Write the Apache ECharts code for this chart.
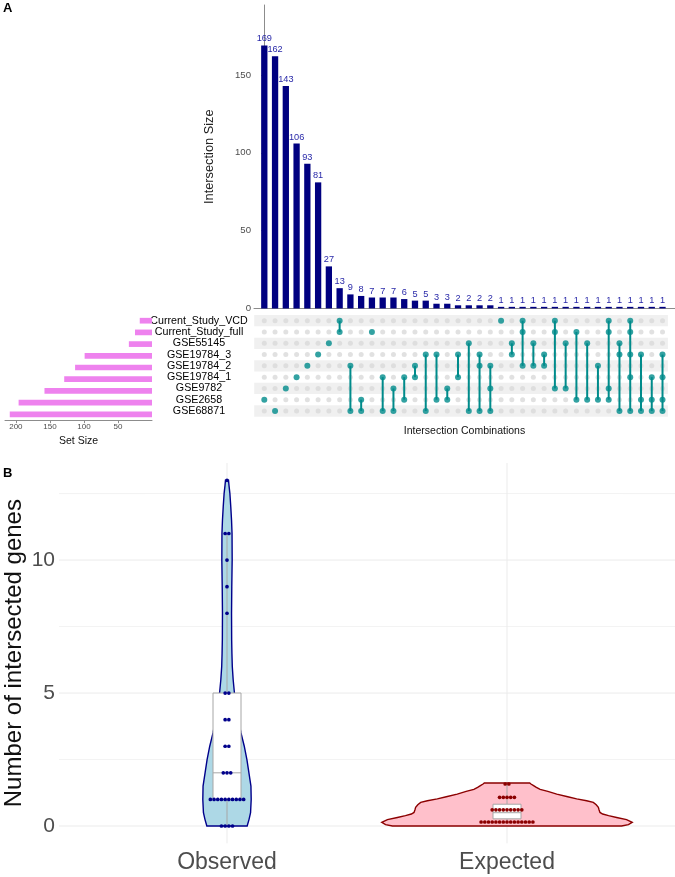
<!DOCTYPE html>
<html><head><meta charset="utf-8">
<script src="https://cdn.jsdelivr.net/npm/echarts@6/dist/echarts.min.js"></script>
<style>html,body{margin:0;padding:0;background:#fff}#c{width:675px;height:877px}</style>
</head><body><div id="c"></div>
<script>
// ---------------- DATA ----------------
const setNames = ['Current_Study_VCD','Current_Study_full','GSE55145','GSE19784_3','GSE19784_2','GSE19784_1','GSE9782','GSE2658','GSE68871'];
const setSizes = [18,25,34,99,113,129,158,196,209];
const intersectionSizes = [169,162,143,106,93,81,27,13,9,8,7,7,7,6,5,5,3,3,2,2,2,2,1,1,1,1,1,1,1,1,1,1,1,1,1,1,1,1];
const intersectionSets = [
 ['GSE2658'],['GSE68871'],['GSE9782'],['GSE19784_1'],['GSE19784_2'],['GSE19784_3'],['GSE55145'],
 ['Current_Study_VCD','Current_Study_full'],
 ['GSE19784_2','GSE68871'],['GSE2658','GSE68871'],['Current_Study_full'],['GSE19784_1','GSE68871'],['GSE9782','GSE68871'],
 ['GSE19784_1','GSE2658'],['GSE19784_2','GSE19784_1'],['GSE19784_3','GSE68871'],['GSE19784_3','GSE2658'],['GSE9782','GSE2658'],
 ['GSE19784_3','GSE19784_1'],['GSE55145','GSE68871'],['GSE19784_3','GSE19784_2','GSE68871'],['GSE19784_2','GSE9782','GSE68871'],
 ['Current_Study_VCD'],['GSE55145','GSE19784_3'],['Current_Study_VCD','Current_Study_full','GSE19784_2'],['GSE55145','GSE19784_2'],
 ['GSE19784_3','GSE19784_2'],['Current_Study_VCD','Current_Study_full','GSE9782'],['GSE55145','GSE9782'],['Current_Study_full','GSE2658'],
 ['GSE55145','GSE2658'],['GSE19784_2','GSE2658'],['Current_Study_VCD','Current_Study_full','GSE9782','GSE2658'],['GSE55145','GSE19784_3','GSE68871'],
 ['Current_Study_VCD','Current_Study_full','GSE19784_3','GSE19784_1','GSE68871'],['GSE19784_3','GSE2658','GSE68871'],['GSE19784_1','GSE2658','GSE68871'],
 ['GSE19784_3','GSE19784_1','GSE2658','GSE68871']
];
const intersectionTicks = [0,50,100,150];
const setSizeTicks = [50,100,150,200];

const violinCategories = ['Observed','Expected'];
const violinTicks = [0,5,10];
const violinMinorTicks = [2.5,7.5,12.5];
const observedValues = [13,11,11,10,9,8,5,5,4,4,3,3,2,2,2,1,1,1,1,1,1,1,1,1,1,0,0,0,0];
const expectedValues = [1.58,1.58,1.08,1.08,1.08,1.08,1.08,0.61,0.61,0.61,0.61,0.61,0.61,0.61,0.61,0.61,
  0.15,0.15,0.15,0.15,0.15,0.15,0.15,0.15,0.15,0.15,0.15,0.15,0.15,0.15,0.15];
const observedDensityY = [0,0.25,0.5,1,1.5,2,2.5,3,3.5,4,4.5,5,5.5,6,6.5,7,8,9,10,11,11.5,12,12.5,12.8,13];
const observedDensity  = [0.160,0.175,0.187,0.192,0.190,0.174,0.158,0.137,0.111,0.091,0.074,0.059,0.049,0.042,0.039,0.037,0.036,0.038,0.041,0.040,0.036,0.030,0.023,0.016,0.012];
const expectedDensityY = [0,0.05,0.14,0.24,0.32,0.39,0.45,0.51,0.6,0.7,0.8,0.89,0.95,1.02,1.1,1.2,1.3,1.38,1.45,1.52,1.58,1.62];
const expectedDensity  = [0.909,0.964,0.994,0.949,0.870,0.806,0.759,0.738,0.731,0.725,0.708,0.685,0.632,0.553,0.482,0.395,0.324,0.263,0.233,0.211,0.190,0.180];
const observedBox = [0,1,2,5,11];     // min, Q1, median, Q3, max (whiskers)
const expectedBox = [0.1,0.27,0.5,0.82,1.6];

// ---------------- LAYOUT / STYLE ----------------
const FONT = 'Liberation Sans, Arial, Helvetica, sans-serif';
const NAVY = '#000080', TEAL = '#008b8b';
const X_MIN_U = -0.957, X_MAX_U = 38.16;
const V_XMIN = 0.4, V_XMAX = 2.6;
const VIOLIN_HALF = 0.45, BOX_HALF = 0.05, DOT_D = 3.7;

// build matrix data
const memberDots = [], emptyDots = [], connectors = [];
intersectionSets.forEach((sets, i) => {
  const rows = sets.map(s => setNames.indexOf(s));
  setNames.forEach((n, j) => { (rows.includes(j) ? memberDots : emptyDots).push([i, j]); });
  if (rows.length > 1) connectors.push([i, Math.min(...rows), Math.max(...rows)]);
});
const stripeRows = setNames.map((n, j) => j).filter(j => j % 2 === 0);

function stackDots(vals, cat) {
  const counts = {}, seen = {};
  vals.forEach(v => counts[v] = (counts[v] || 0) + 1);
  return vals.map(v => { const k = seen[v] = (seen[v] || 0) + 1; return [cat, v, (k - 1) - (counts[v] - 1) / 2]; });
}

const violinSeries = (cat, ys, ds, fill, stroke) => ({
  type: 'custom', xAxisIndex: 3, yAxisIndex: 3, z: 3, silent: true,
  data: [[cat, 0]], encode: {x: 0, y: 1},
  renderItem: (p, api) => {
    const c = api.value(0), pts = [];
    for (let i = 0; i < ys.length; i++) pts.push(api.coord([c + ds[i] * VIOLIN_HALF, ys[i]]));
    for (let i = ys.length - 1; i >= 0; i--) pts.push(api.coord([c - ds[i] * VIOLIN_HALF, ys[i]]));
    return {type: 'polygon', shape: {points: pts}, style: {fill: fill, stroke: stroke, lineWidth: 1.4}};
  }
});

const chart = echarts.init(document.getElementById('c'), null, {renderer: 'canvas'});
const option = {
  animation: false,
  textStyle: {fontFamily: FONT},
  graphic: [
    {type: 'text', left: 3, top: 2, style: {text: 'A', font: 'bold 13px ' + FONT, fill: '#000'}},
    {type: 'text', left: 3, top: 467, style: {text: 'B', font: 'bold 13px ' + FONT, fill: '#000'}}
  ],
  grid: [
    {left: 254, right: 0, top: 5, height: 303.4, outerBoundsMode: 'none'},
    {left: 254, right: 0, top: 315.05, height: 101.6, outerBoundsMode: 'none'},
    {left: 5, width: 147, top: 314.85, height: 105.3, outerBoundsMode: 'none'},
    {left: 59, right: 0, top: 463, height: 380.3, outerBoundsMode: 'none'}
  ],
  xAxis: [
    {type: 'value', gridIndex: 0, min: X_MIN_U, max: X_MAX_U, axisLine: {show: true, onZero: false, lineStyle: {color: '#8c8c8c'}},
     axisTick: {show: false}, axisLabel: {show: false}, splitLine: {show: false}},
    {type: 'value', gridIndex: 1, min: X_MIN_U, max: X_MAX_U, axisLine: {show: false}, axisTick: {show: false},
     axisLabel: {show: false}, splitLine: {show: false},
     name: 'Intersection Combinations', nameLocation: 'middle', nameGap: 9, nameTextStyle: {fontSize: 10.5, color: '#111'}},
    {type: 'value', gridIndex: 2, inverse: true, min: 0, max: 216, interval: 50,
     axisLine: {show: true, onZero: false, lineStyle: {color: '#8c8c8c'}}, axisTick: {show: true, length: 3, lineStyle: {color: '#8c8c8c'}, customValues: setSizeTicks},
     axisLabel: {fontSize: 8, color: '#4d4d4d', margin: 3, customValues: setSizeTicks}, splitLine: {show: false},
     name: 'Set Size', nameLocation: 'middle', nameGap: 15, nameTextStyle: {fontSize: 10.5, color: '#111'}},
    {type: 'value', gridIndex: 3, min: V_XMIN, max: V_XMAX, axisLine: {show: false}, axisTick: {show: false}, splitLine: {show: false},
     axisLabel: {fontSize: 23, color: '#4d4d4d', margin: 8, customValues: [1, 2], formatter: v => violinCategories[Math.round(v) - 1] || ''}}
  ],
  yAxis: [
    {type: 'value', gridIndex: 0, min: 0, max: 195, interval: 50,
     axisLine: {show: true, lineStyle: {color: '#8c8c8c'}}, axisTick: {show: true, length: 3, lineStyle: {color: '#8c8c8c'}, customValues: intersectionTicks},
     axisLabel: {fontSize: 9.6, color: '#4d4d4d', margin: 3, customValues: intersectionTicks}, splitLine: {show: false},
     name: 'Intersection Size', nameLocation: 'middle', nameGap: 38, nameTextStyle: {fontSize: 12.8, color: '#222'}},
    {type: 'category', gridIndex: 1, data: setNames, inverse: true, axisLine: {show: false}, axisTick: {show: false},
     axisLabel: {interval: 0, align: 'center', margin: 55, fontSize: 10.7, color: '#000'}, splitLine: {show: false}},
    {type: 'category', gridIndex: 2, data: setNames, inverse: true, show: false},
    {type: 'value', gridIndex: 3, min: -0.65, max: 13.65, axisLine: {show: false}, axisTick: {show: false}, splitLine: {show: false},
     axisLabel: {fontSize: 21, color: '#4d4d4d', margin: 4, customValues: violinTicks},
     name: 'Number of intersected genes', nameLocation: 'middle', nameGap: 33, nameMoveOverlap: false,
     nameTextStyle: {fontSize: 24, color: '#111'}}
  ],
  series: [
    // intersection bars
    {type: 'bar', xAxisIndex: 0, yAxisIndex: 0, barWidth: 6.3, itemStyle: {color: NAVY},
     data: intersectionSizes.map((v, i) => [i, v]),
     label: {show: true, position: 'top', distance: 2, fontSize: 9.2, color: '#2828a8', formatter: p => p.value[1]}},
    // matrix stripes
    {type: 'custom', xAxisIndex: 1, yAxisIndex: 1, silent: true, z: 1,
     data: stripeRows.map(r => [0, r]), encode: {x: 0, y: 1},
     renderItem: (p, api) => {
       const a = api.coord([X_MIN_U + 0.02, api.value(1)]), b = api.coord([37.5, api.value(1)]);
       const h = api.size([0, 1])[1];
       return {type: 'rect', shape: {x: a[0], y: a[1] - h / 2, width: b[0] - a[0], height: h}, style: {fill: '#f0f0f0'}};
     }},
    {type: 'scatter', xAxisIndex: 1, yAxisIndex: 1, symbolSize: 5, itemStyle: {color: '#d9d9d9'}, data: emptyDots, z: 2, silent: true},
    {type: 'custom', xAxisIndex: 1, yAxisIndex: 1, silent: true, z: 3,
     data: connectors, encode: {x: 0, y: 1},
     renderItem: (p, api) => {
       const a = api.coord([api.value(0), api.value(1)]), b = api.coord([api.value(0), api.value(2)]);
       return {type: 'line', shape: {x1: a[0], y1: a[1], x2: b[0], y2: b[1]}, style: {stroke: TEAL, lineWidth: 2}};
     }},
    {type: 'scatter', xAxisIndex: 1, yAxisIndex: 1, symbolSize: 6, itemStyle: {color: TEAL}, data: memberDots, z: 4, silent: true},
    // set sizes
    {type: 'bar', xAxisIndex: 2, yAxisIndex: 2, barWidth: 5.7, itemStyle: {color: '#ee82ee'}, data: setSizes},
    // violin grid lines
    {type: 'custom', xAxisIndex: 3, yAxisIndex: 3, silent: true, z: 1,
     data: violinTicks.map(v => [V_XMIN, v, 1]).concat(violinMinorTicks.map(v => [V_XMIN, v, 0])), encode: {x: 0, y: 1},
     renderItem: (p, api) => {
       const a = api.coord([V_XMIN, api.value(1)]), b = api.coord([V_XMAX, api.value(1)]);
       return {type: 'line', shape: {x1: a[0], y1: a[1], x2: b[0], y2: b[1]},
               style: {stroke: api.value(2) ? '#ebebeb' : '#f3f3f3', lineWidth: 1}};
     }},
    {type: 'custom', xAxisIndex: 3, yAxisIndex: 3, silent: true, z: 1,
     data: violinCategories.map((c, i) => [i + 1, 0]), encode: {x: 0, y: 1},
     renderItem: (p, api) => {
       const a = api.coord([api.value(0), -0.65]), b = api.coord([api.value(0), 13.65]);
       return {type: 'line', shape: {x1: a[0], y1: a[1], x2: b[0], y2: b[1]}, style: {stroke: '#ebebeb', lineWidth: 1}};
     }},
    violinSeries(1, observedDensityY, observedDensity, '#add8e6', '#00008b'),
    violinSeries(2, expectedDensityY, expectedDensity, '#ffc0cb', '#8b0000'),
    // boxplots
    {type: 'custom', xAxisIndex: 3, yAxisIndex: 3, silent: true, z: 4,
     data: [[1].concat(observedBox), [2].concat(expectedBox)], encode: {x: 0, y: 3},
     renderItem: (p, api) => {
       const c = api.value(0), mn = api.value(1), q1 = api.value(2), md = api.value(3), q3 = api.value(4), mx = api.value(5);
       const P = (x, y) => api.coord([x, y]);
       const st = {stroke: '#a6a6a6', lineWidth: 1};
       const t0 = P(c, q3), t1 = P(c, mx), b0 = P(c, q1), b1 = P(c, mn);
       const L = P(c - BOX_HALF, q3), R = P(c + BOX_HALF, q1);
       const mL = P(c - BOX_HALF, md), mR = P(c + BOX_HALF, md);
       return {type: 'group', children: [
         {type: 'line', shape: {x1: t0[0], y1: t0[1], x2: t1[0], y2: t1[1]}, style: st},
         {type: 'line', shape: {x1: b0[0], y1: b0[1], x2: b1[0], y2: b1[1]}, style: st},
         {type: 'rect', shape: {x: L[0], y: L[1], width: R[0] - L[0], height: R[1] - L[1]}, style: {fill: '#fff', stroke: '#a6a6a6', lineWidth: 1}},
         {type: 'line', shape: {x1: mL[0], y1: mL[1], x2: mR[0], y2: mR[1]}, style: st}
       ]};
     }},
    // dots
    {type: 'custom', xAxisIndex: 3, yAxisIndex: 3, silent: true, z: 5,
     data: stackDots(observedValues, 1).map(d => d.concat(0)).concat(stackDots(expectedValues, 2).map(d => d.concat(1))), encode: {x: 0, y: 1},
     renderItem: (p, api) => {
       const pt = api.coord([api.value(0), api.value(1)]);
       return {type: 'circle', shape: {cx: pt[0] + api.value(2) * DOT_D, cy: pt[1], r: DOT_D / 2},
               style: {fill: api.value(3) ? '#8b0000' : '#00008b'}};
     }}
  ]
};
chart.setOption(option);
</script></body></html>
